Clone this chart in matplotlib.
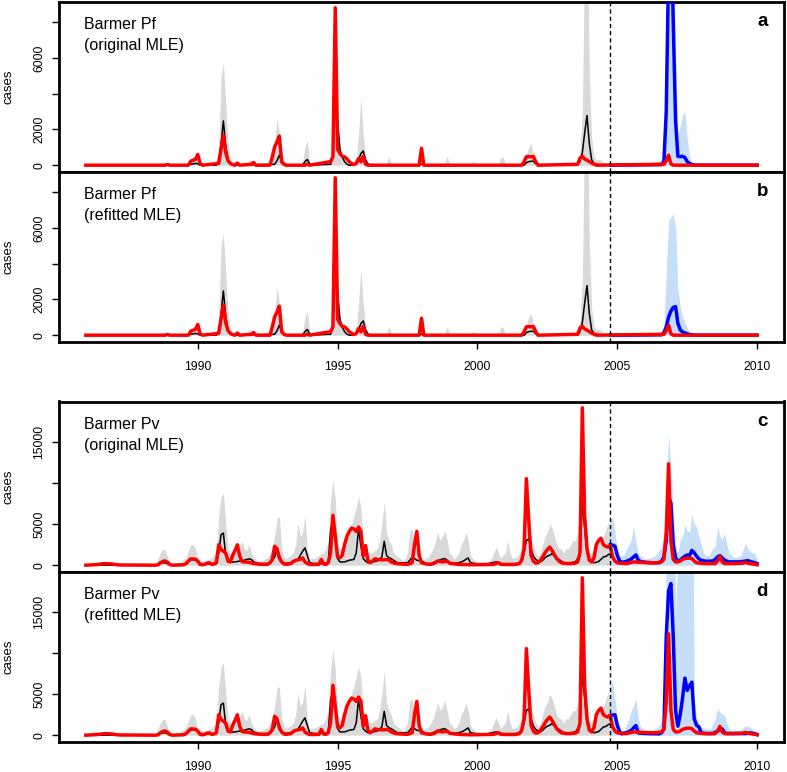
"""Barmer Pf / Pv: fitted period and forecasts, four stacked panels."""

import matplotlib
matplotlib.use("Agg")
import matplotlib.pyplot as plt
import numpy as np

plt.rcParams["font.family"] = ["Liberation Sans", "DejaVu Sans"]

START_YEAR = 1986
FIT_END = 225  # month index where the forecast starts (dashed line)

# all series: (months since Jan 1986, cases)
pf_obs = [(0, 0), (34, 0), (35, 40), (36, 0), (44, 0), (45, 225), (46, 280), (47, 320), (48, 600),
          (49, 100), (50, 0), (57, 100), (58, 900), (59, 1690), (60, 700), (61, 250), (62, 100),
          (63, 30), (64, 0), (65, 120), (66, 0), (71, 50), (72, 150), (73, 0), (79, 0), (80, 470),
          (81, 1030), (82, 1300), (83, 1630), (84, 200), (85, 50), (86, 0), (94, 0), (95, 60),
          (96, 0), (105, 200), (106, 470), (107, 8814), (108, 900), (109, 650), (110, 500),
          (111, 470), (112, 350), (113, 190), (114, 100), (115, 40), (116, 100), (117, 375),
          (118, 190), (119, 500), (120, 60), (121, 0), (143, 0), (144, 950), (145, 0), (187, 0),
          (188, 200), (189, 470), (190, 480), (191, 470), (192, 490), (193, 200), (194, 0),
          (211, 50), (212, 400), (213, 500), (214, 350), (215, 280), (216, 200), (217, 120),
          (218, 60), (219, 0), (248, 50), (249, 250), (250, 560), (251, 80), (252, 0), (288, 0)]

pf_fit_med = [(0, 0), (43, 0), (45, 50), (47, 100), (48, 80), (49, 0), (56, 0), (57, 200),
              (58, 1200), (59, 2480), (60, 1100), (61, 300), (62, 80), (63, 0), (81, 50),
              (82, 250), (83, 560), (84, 250), (85, 60), (86, 0), (93, 0), (94, 200), (95, 320),
              (96, 80), (97, 0), (105, 50), (106, 500), (107, 3850), (108, 2400), (109, 900),
              (110, 450), (111, 200), (112, 60), (113, 0), (115, 0), (116, 100), (117, 300),
              (118, 650), (119, 800), (120, 300), (121, 80), (122, 0), (143, 0), (144, 60),
              (145, 0), (188, 0), (189, 150), (190, 200), (191, 220), (192, 220), (193, 80),
              (194, 0), (211, 50), (212, 200), (213, 700), (214, 1800), (215, 2780), (216, 1200),
              (217, 300), (218, 100), (219, 50), (220, 30), (225, 20)]

pf_fit_hi = [(0, 0), (33, 0), (35, 200), (37, 0), (43, 0), (45, 300), (47, 400), (48, 300),
             (50, 50), (55, 100), (56, 300), (57, 1000), (58, 5000), (59, 5720), (60, 3500),
             (61, 1200), (62, 400), (63, 100), (64, 0), (69, 0), (70, 300), (71, 250), (72, 200),
             (73, 0), (79, 0), (80, 500), (81, 1200), (82, 2680), (83, 1800), (84, 800), (85, 200),
             (86, 0), (92, 0), (93, 200), (94, 1000), (95, 1400), (96, 200), (97, 0), (104, 0),
             (105, 300), (106, 1500), (107, 7500), (108, 3000), (109, 1000), (110, 500), (111, 200),
             (112, 100), (115, 100), (116, 300), (117, 1800), (118, 3750), (119, 1800), (120, 500),
             (121, 100), (122, 0), (128, 0), (129, 100), (130, 500), (131, 100), (132, 0), (142, 0),
             (143, 150), (144, 100), (145, 0), (154, 100), (155, 500), (156, 100), (157, 0),
             (165, 0), (166, 250), (167, 100), (168, 0), (177, 50), (178, 450), (179, 450),
             (180, 50), (187, 0), (188, 300), (189, 600), (190, 1000), (191, 1220), (192, 600),
             (193, 300), (194, 50), (195, 0), (201, 0), (202, 200), (203, 0), (210, 100), (211, 300),
             (212, 800), (213, 3000), (214, 12000), (215, 14000), (216, 5000), (217, 1500),
             (218, 500), (219, 300), (220, 320), (221, 300), (222, 150), (223, 100), (225, 50)]

pf_orig_med = [(225, 0), (247, 30), (248, 200), (249, 3000), (250, 11000), (251, 14000),
               (252, 8000), (253, 2500), (254, 500), (255, 480), (256, 500), (257, 430), (258, 200),
               (259, 100), (260, 40), (262, 0), (288, 0)]
pf_orig_hi = [(225, 30), (240, 30), (247, 300), (248, 2000), (249, 9000), (250, 20000),
              (251, 20000), (252, 15000), (253, 6000), (254, 1800), (255, 2200), (256, 2800),
              (257, 3000), (258, 1500), (259, 470), (260, 100), (262, 0), (273, 0), (274, 150),
              (276, 0), (288, 0)]

pf_refit_med = [(225, 0), (247, 20), (248, 150), (249, 470), (250, 1000), (251, 1350),
                (252, 1560), (253, 1600), (254, 660), (255, 300), (256, 180), (257, 130),
                (258, 80), (259, 40), (260, 20), (262, 0), (288, 0)]
pf_refit_hi = [(225, 30), (240, 30), (247, 100), (248, 400), (249, 3500), (250, 6400), (251, 6600),
               (252, 6800), (253, 6000), (254, 2600), (255, 1600), (256, 1030), (257, 700),
               (258, 400), (259, 200), (260, 90), (262, 0), (273, 0), (274, 100), (276, 0), (288, 0)]

pv_obs = [(0, 0), (5, 80), (8, 200), (11, 150), (14, 30), (20, 20), (30, 0), (31, 50), (32, 300),
          (33, 450), (34, 520), (35, 350), (36, 100), (37, 0), (42, 50), (43, 200), (44, 500),
          (45, 770), (46, 750), (47, 730), (48, 500), (49, 100), (50, 50), (51, 100), (52, 250),
          (53, 280), (54, 100), (55, 150), (56, 300), (57, 2480), (58, 1900), (59, 1700),
          (60, 1480), (61, 500), (62, 400), (63, 1200), (64, 1800), (65, 2480), (66, 1100),
          (67, 450), (68, 400), (70, 360), (72, 200), (75, 100), (78, 100), (79, 300), (80, 700),
          (81, 2300), (82, 2000), (83, 900), (84, 400), (85, 150), (86, 100), (88, 200), (89, 450),
          (90, 600), (91, 650), (92, 700), (93, 890), (94, 400), (95, 200), (96, 100), (97, 80),
          (100, 100), (101, 690), (102, 150), (103, 100), (104, 300), (105, 1500), (106, 6050),
          (107, 3500), (108, 1000), (109, 900), (110, 1200), (111, 2500), (112, 3500), (113, 4100),
          (114, 4500), (115, 4400), (116, 4100), (117, 4630), (118, 4100), (119, 1100),
          (120, 2380), (121, 600), (122, 300), (123, 500), (124, 770), (125, 700), (127, 650),
          (129, 690), (130, 650), (131, 400), (132, 280), (133, 200), (135, 150), (138, 100),
          (140, 300), (141, 2500), (142, 4100), (143, 1200), (144, 300), (146, 150), (148, 100),
          (150, 300), (151, 520), (152, 450), (153, 400), (154, 450), (155, 500), (156, 250),
          (157, 200), (160, 100), (165, 50), (170, 80), (175, 100), (177, 300), (178, 100),
          (184, 80), (186, 200), (187, 600), (188, 2000), (189, 10500), (190, 5500), (191, 1200),
          (192, 500), (193, 250), (194, 300), (195, 600), (196, 1000), (197, 1500), (198, 1900),
          (199, 2200), (200, 1800), (201, 1300), (202, 800), (203, 500), (204, 300), (206, 200),
          (208, 200), (210, 250), (211, 400), (212, 1500), (213, 19100), (214, 6000), (215, 2000),
          (216, 600), (217, 400), (218, 900), (219, 2500), (220, 3000), (221, 3280), (222, 2500),
          (223, 2300), (224, 2200), (225, 2360), (226, 1000), (227, 500), (228, 300), (229, 250),
          (232, 200), (235, 400), (238, 350), (241, 300), (245, 300), (247, 400), (248, 700),
          (249, 4000), (250, 12300), (251, 3000), (252, 700), (253, 400), (254, 400), (255, 500),
          (256, 700), (257, 800), (258, 850), (259, 850), (260, 800), (261, 500), (262, 300),
          (265, 200), (270, 200), (271, 500), (272, 1080), (273, 400), (274, 200), (278, 200),
          (282, 250), (283, 350), (284, 250), (286, 150), (288, 50)]

pv_fit_med = [(0, 0), (30, 0), (32, 250), (34, 300), (36, 50), (42, 50), (43, 200), (45, 650),
              (47, 700), (49, 100), (54, 150), (56, 300), (57, 1500), (58, 3700), (59, 3900),
              (60, 1200), (61, 400), (62, 350), (64, 400), (66, 500), (68, 600), (69, 700),
              (70, 770), (71, 690), (72, 400), (74, 200), (78, 200), (80, 500), (81, 1000),
              (82, 1970), (83, 1200), (84, 500), (85, 200), (88, 300), (90, 500), (91, 700),
              (92, 1200), (93, 1700), (94, 2100), (95, 1200), (96, 300), (98, 200), (102, 200),
              (104, 300), (105, 4300), (106, 5400), (107, 3500), (108, 800), (109, 400), (111, 400),
              (113, 600), (115, 700), (116, 1500), (117, 4400), (118, 2300), (119, 800), (120, 500),
              (121, 300), (123, 400), (125, 500), (127, 1000), (128, 2900), (129, 1200), (130, 900),
              (131, 800), (132, 600), (133, 400), (134, 300), (138, 300), (139, 600), (140, 1000),
              (141, 800), (142, 600), (144, 500), (146, 200), (148, 200), (150, 450), (151, 550),
              (153, 750), (154, 800), (155, 600), (156, 300), (157, 200), (160, 300), (162, 500),
              (163, 700), (164, 880), (165, 300), (167, 200), (172, 150), (176, 400), (177, 350),
              (179, 150), (185, 200), (187, 400), (188, 1500), (189, 3000), (190, 3200),
              (191, 2000), (192, 1100), (193, 700), (194, 500), (195, 400), (196, 600), (197, 900),
              (198, 1100), (199, 1200), (200, 1400), (201, 1100), (202, 900), (203, 700),
              (204, 500), (205, 300), (208, 300), (210, 400), (211, 800), (212, 1200), (213, 7600),
              (214, 4500), (215, 1500), (216, 800), (217, 400), (218, 300), (219, 350), (220, 450),
              (221, 700), (222, 1000), (223, 1050), (224, 1250), (225, 1400)]

pv_fit_hi = [(0, 0), (20, 0), (28, 50), (30, 200), (32, 1500), (33, 1900), (34, 1900), (35, 1000),
             (36, 300), (38, 200), (40, 300), (42, 700), (43, 1000), (44, 1800), (45, 2500),
             (46, 2500), (47, 2000), (48, 800), (49, 600), (51, 500), (53, 700), (55, 1200),
             (56, 1500), (57, 6000), (58, 8300), (59, 8750), (60, 5100), (61, 2000), (62, 1500),
             (63, 1500), (64, 1800), (65, 2000), (66, 2300), (67, 2900), (68, 2000), (69, 1800),
             (70, 2500), (71, 1500), (72, 1000), (74, 500), (76, 600), (78, 1000), (79, 1500),
             (80, 2000), (81, 3500), (82, 5700), (83, 5920), (84, 2000), (85, 1000), (86, 800),
             (88, 1200), (89, 1500), (90, 2500), (91, 5120), (92, 3500), (93, 4000), (94, 6000),
             (95, 2000), (96, 800), (98, 800), (100, 1200), (102, 1500), (103, 2000), (104, 3000),
             (105, 8000), (106, 10300), (107, 8000), (108, 2500), (109, 2000), (110, 2000),
             (111, 2500), (112, 4000), (113, 4500), (114, 5000), (115, 6000), (116, 7000),
             (117, 8340), (118, 7000), (119, 3000), (120, 2000), (121, 1500), (122, 1500),
             (123, 1500), (124, 1800), (125, 2000), (126, 3000), (127, 5000), (128, 7740),
             (129, 4000), (130, 3000), (131, 2500), (132, 1500), (133, 1200), (135, 800),
             (136, 500), (137, 800), (138, 1500), (139, 4200), (140, 4400), (141, 3000),
             (142, 1500), (143, 1200), (144, 800), (145, 700), (147, 1000), (148, 1500),
             (149, 2000), (150, 3000), (151, 4000), (152, 3000), (153, 3500), (154, 4200),
             (155, 3000), (156, 1500), (157, 1200), (158, 800), (159, 1000), (160, 1500),
             (161, 2500), (162, 3000), (163, 4000), (164, 3000), (165, 1200), (166, 800),
             (168, 300), (172, 300), (174, 800), (175, 1500), (176, 2200), (177, 1500), (178, 800),
             (179, 1200), (180, 1500), (181, 3000), (182, 1500), (183, 800), (185, 1000),
             (186, 1500), (187, 2500), (188, 5000), (189, 6000), (190, 5000), (191, 3000),
             (192, 2500), (193, 1500), (194, 1000), (195, 1500), (196, 2500), (197, 3500),
             (198, 4000), (199, 5000), (200, 4500), (201, 3500), (202, 2500), (203, 2000),
             (204, 2000), (205, 1500), (206, 2000), (207, 2000), (208, 2500), (209, 3000),
             (210, 3000), (211, 4000), (212, 6000), (213, 9000), (214, 6000), (215, 3000),
             (216, 1500), (217, 1500), (218, 2000), (219, 2500), (220, 2800), (221, 3000),
             (222, 3500), (223, 4200), (224, 5200), (225, 4000)]

pv_orig_med = [(225, 2480), (226, 2450), (227, 2300), (228, 1200), (229, 500), (230, 360),
               (231, 400), (232, 480), (233, 600), (234, 760), (235, 1000), (236, 1240), (237, 600),
               (238, 450), (240, 360), (243, 300), (246, 300), (247, 500), (248, 1000), (249, 3000),
               (250, 8360), (251, 7500), (252, 2500), (253, 900), (254, 500), (255, 600), (256, 880),
               (257, 1100), (258, 1240), (259, 1160), (260, 1800), (261, 1500), (262, 1100),
               (263, 760), (264, 600), (266, 480), (269, 500), (270, 700), (271, 1000), (272, 1160),
               (273, 900), (274, 600), (276, 400), (280, 400), (283, 500), (284, 560), (285, 450),
               (287, 300), (288, 200)]
pv_orig_hi = [(225, 5500), (226, 5880), (227, 3880), (228, 2000), (229, 1080), (230, 1200),
              (231, 1280), (232, 2000), (233, 2500), (234, 3080), (235, 4680), (236, 2800),
              (237, 1500), (238, 1080), (240, 760), (242, 900), (244, 1080), (246, 1800),
              (247, 2280), (248, 4000), (249, 9000), (250, 15880), (251, 12000), (252, 6680),
              (253, 2500), (254, 1480), (255, 3000), (256, 3480), (257, 4880), (258, 4200),
              (259, 4080), (260, 6080), (261, 5000), (262, 4680), (263, 3480), (264, 2500),
              (265, 1480), (266, 1200), (267, 1080), (269, 2000), (270, 2280), (271, 4680),
              (272, 3500), (273, 3080), (274, 3880), (275, 2500), (276, 1480), (278, 1000),
              (279, 880), (281, 1200), (283, 2680), (284, 2000), (285, 1680), (286, 1500),
              (287, 1480), (288, 680)]

pv_refit_med = [(225, 2390), (226, 2450), (227, 2470), (228, 1200), (229, 400), (230, 160),
                (231, 250), (232, 300), (233, 450), (234, 570), (235, 900), (236, 1170), (237, 280),
                (238, 250), (240, 200), (246, 160), (247, 300), (248, 770), (249, 12000),
                (250, 17500), (251, 18400), (252, 12000), (253, 3000), (254, 1100), (255, 2500),
                (256, 4500), (257, 6930), (258, 5430), (259, 6000), (260, 6440), (261, 2000),
                (262, 1200), (263, 1000), (264, 300), (266, 200), (269, 200), (271, 500), (272, 700),
                (273, 770), (274, 300), (275, 200), (283, 200), (285, 280), (286, 250), (288, 100)]
pv_refit_hi = [(225, 6000), (226, 6440), (227, 4400), (228, 2000), (229, 1000), (230, 600),
               (231, 700), (232, 1170), (233, 2000), (234, 3000), (235, 3600), (236, 4400),
               (237, 2000), (238, 1000), (239, 770), (241, 600), (243, 570), (245, 900), (246, 1170),
               (247, 1800), (248, 2800), (249, 22000), (250, 60000), (251, 60000), (252, 40000),
               (253, 15000), (254, 22000), (255, 60000), (260, 60000), (261, 4400), (262, 2000),
               (264, 970), (266, 800), (268, 770), (270, 2000), (271, 3280), (272, 2800),
               (274, 2400), (275, 1500), (276, 770), (278, 600), (280, 570), (282, 900), (283, 1170),
               (285, 970), (287, 450), (288, 300)]

pf_yticks = [0, 2000, 4000, 6000, 8000]
pf_ylabels = ["0", "2000", "", "6000", ""]
pv_yticks = [0, 5000, 10000, 15000]
pv_ylabels = ["0", "5000", "", "15000"]
year_ticks = [1990, 1995, 2000, 2005, 2010]

GREY = "#d9d9d9"
LIGHT_BLUE = "#c6def8"
W, H = 787, 772


def unzip(pairs):
    m, v = zip(*pairs)
    return START_YEAR + np.array(m) / 12.0, np.array(v, dtype=float)


def panel(fig, top_px, bottom_px):
    left, right = 59, 784
    return fig.add_axes([left / W, 1 - bottom_px / H, (right - left) / W, (bottom_px - top_px) / H])


def draw(ax, obs, fit_med, fit_hi, fc_med, fc_hi, name, tag, yticks, ylabels, xaxis):
    t_obs, v_obs = unzip(obs)
    ax.fill_between(*unzip(fit_hi), 0, color=GREY, lw=0, zorder=1)
    ax.fill_between(*unzip(fc_hi), 0, color=LIGHT_BLUE, lw=0, zorder=1)
    ax.plot(*unzip(fit_med), color="black", lw=1.1, zorder=3)
    ax.plot(*unzip(fc_med), color="#0000ff", lw=2.5, zorder=4)
    ax.plot(t_obs, v_obs, color="#ff0000", lw=2.5, zorder=5)
    ax.axvline(START_YEAR + FIT_END / 12.0, color="black", lw=1.0, ls=(0, (3, 2.2)), zorder=6)

    ymax = v_obs.max()
    ax.set_ylim(-0.04 * ymax, 1.04 * ymax)
    span = t_obs.max() - t_obs.min()
    ax.set_xlim(t_obs.min() - 0.04 * span, t_obs.max() + 0.04 * span)

    ax.set_yticks(yticks)
    ax.set_yticklabels(ylabels, rotation=90, va="center")
    ax.set_xticks(year_ticks)
    ax.tick_params(direction="out", length=5, width=1, labelsize=8.8, pad=5)
    ax.tick_params(axis="x", pad=9, bottom=xaxis, labelbottom=xaxis)
    for sp in ax.spines.values():
        sp.set_linewidth(2)

    ax.text(0.0345, 0.838, name[0], transform=ax.transAxes, fontsize=11.5, va="baseline")
    ax.text(0.0345, 0.715, name[1], transform=ax.transAxes, fontsize=11.5, va="baseline")
    ax.text(0.978, 0.856, tag, transform=ax.transAxes, fontsize=13.5, fontweight="bold",
            ha="right", va="baseline")


fig = plt.figure(figsize=(W / 100, H / 100), dpi=100)

layout = [
    (1.5, 171.5, pf_obs, pf_fit_med, pf_fit_hi, pf_orig_med, pf_orig_hi,
     ("Barmer Pf", "(original MLE)"), "a", pf_yticks, pf_ylabels, False),
    (171.5, 341.5, pf_obs, pf_fit_med, pf_fit_hi, pf_refit_med, pf_refit_hi,
     ("Barmer Pf", "(refitted MLE)"), "b", pf_yticks, pf_ylabels, True),
    (401.5, 571.5, pv_obs, pv_fit_med, pv_fit_hi, pv_orig_med, pv_orig_hi,
     ("Barmer Pv", "(original MLE)"), "c", pv_yticks, pv_ylabels, False),
    (571.5, 741.5, pv_obs, pv_fit_med, pv_fit_hi, pv_refit_med, pv_refit_hi,
     ("Barmer Pv", "(refitted MLE)"), "d", pv_yticks, pv_ylabels, True),
]

for top, bottom, *series, name, tag, yt, yl, xaxis in layout:
    ax = panel(fig, top, bottom)
    draw(ax, *series, name, tag, yt, yl, xaxis)
    fig.text(8.5 / W, 1 - (top + bottom) / 2 / H, "cases", rotation=90,
             ha="center", va="center", fontsize=9.5)

fig.savefig("out.png", dpi=100)
